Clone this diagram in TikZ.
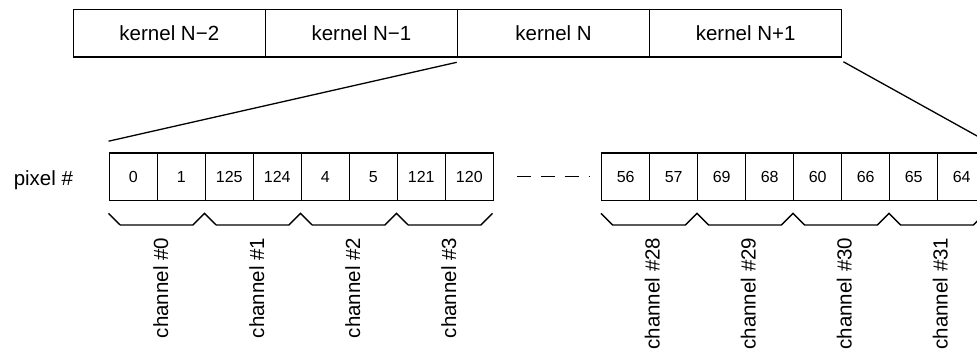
\documentclass[tikz,border=0pt]{standalone}
\usepackage{fontspec}
\setmainfont{Liberation Sans}
\begin{document}
\begin{tikzpicture}[x=1pt,y=-1pt,line width=1.5pt,
  kbox/.style={draw, minimum width=192.1pt, minimum height=47.7pt, inner sep=0pt, font=\fontsize{20.5}{24}\selectfont},
  cell/.style={draw, minimum width=48pt, minimum height=47.5pt, inner sep=0pt, font=\fontsize{16}{19}\selectfont},
  chlabel/.style={rotate=90, anchor=east, inner sep=0pt, font=\fontsize{20.5}{24}\selectfont},
  lbl/.style={inner sep=0pt, font=\fontsize{20.5}{24}\selectfont},
  link/.style={line width=1.3pt},
  brace/.style={line width=1.4pt, line join=miter},
  gap/.style={line width=1.4pt, dash pattern=on 14pt off 9.7pt}]
\useasboundingbox (0,0) rectangle (977,354);

% kernel row
\node[kbox] (k1) at (169.35,33.2) {kernel N−2};
\node[kbox] (k2) at (361.45,33.2) {kernel N−1};
\node[kbox] (k3) at (553.55,33.2) {kernel N};
\node[kbox] (k4) at (745.65,33.2) {kernel N+1};

% pixel label
\node[lbl, anchor=base west] (pix) at (13,185) {pixel \#};

% first group of cells
\foreach \v [count=\i from 0] in {0,1,125,124,4,5,121,120}
  \node[cell] (a\i) at (133.3+48*\i,176.7) {\v};
% second group of cells
\foreach \v [count=\i from 0] in {56,57,69,68,60,66,65,64}
  \node[cell] (b\i) at (625.7+48*\i,176.7) {\v};

% gap
\coordinate (g1) at ([xshift=23.4pt]a7.east);
\coordinate (g2) at ([xshift=-11.7pt]b0.west);
\draw[gap] (g1) -- (g2);

% zoom lines
\draw[link] ([yshift=-4.5pt]k3.south west) -- ([yshift=11pt]a0.north west);
\draw[link] ([xshift=1pt,yshift=-4pt]k4.south east) -- ([yshift=11pt]b7.north east);

% braces
\draw[brace] ([yshift=-12.2pt]a0.south west)
  -- ++(11.7,11.6) -- ++(72.6,0) -- ++(11.7,-11.6)
  -- ++(11.7,11.6) -- ++(72.6,0) -- ++(11.7,-11.6)
  -- ++(11.7,11.6) -- ++(72.6,0) -- ++(11.7,-11.6)
  -- ++(11.7,11.6) -- ++(72.6,0) -- ++(11.7,-11.6);
\draw[brace] ([yshift=-12.2pt]b0.south west)
  -- ++(11.7,11.6) -- ++(72.6,0) -- ++(11.7,-11.6)
  -- ++(11.7,11.6) -- ++(72.6,0) -- ++(11.7,-11.6)
  -- ++(11.7,11.6) -- ++(72.6,0) -- ++(11.7,-11.6)
  -- ++(11.7,11.6) -- ++(72.6,0) -- ++(11.7,-11.6);

% channel labels
\node[chlabel] (ch0) at (160.8,237) {channel \#0};
\node[chlabel] (ch1) at (256.8,237) {channel \#1};
\node[chlabel] (ch2) at (352.8,237) {channel \#2};
\node[chlabel] (ch3) at (448.8,237) {channel \#3};
\node[chlabel] (ch28) at (652.2,237) {channel \#28};
\node[chlabel] (ch29) at (748.2,237) {channel \#29};
\node[chlabel] (ch30) at (844.2,237) {channel \#30};
\node[chlabel] (ch31) at (940.2,237) {channel \#31};
\end{tikzpicture}
\end{document}
